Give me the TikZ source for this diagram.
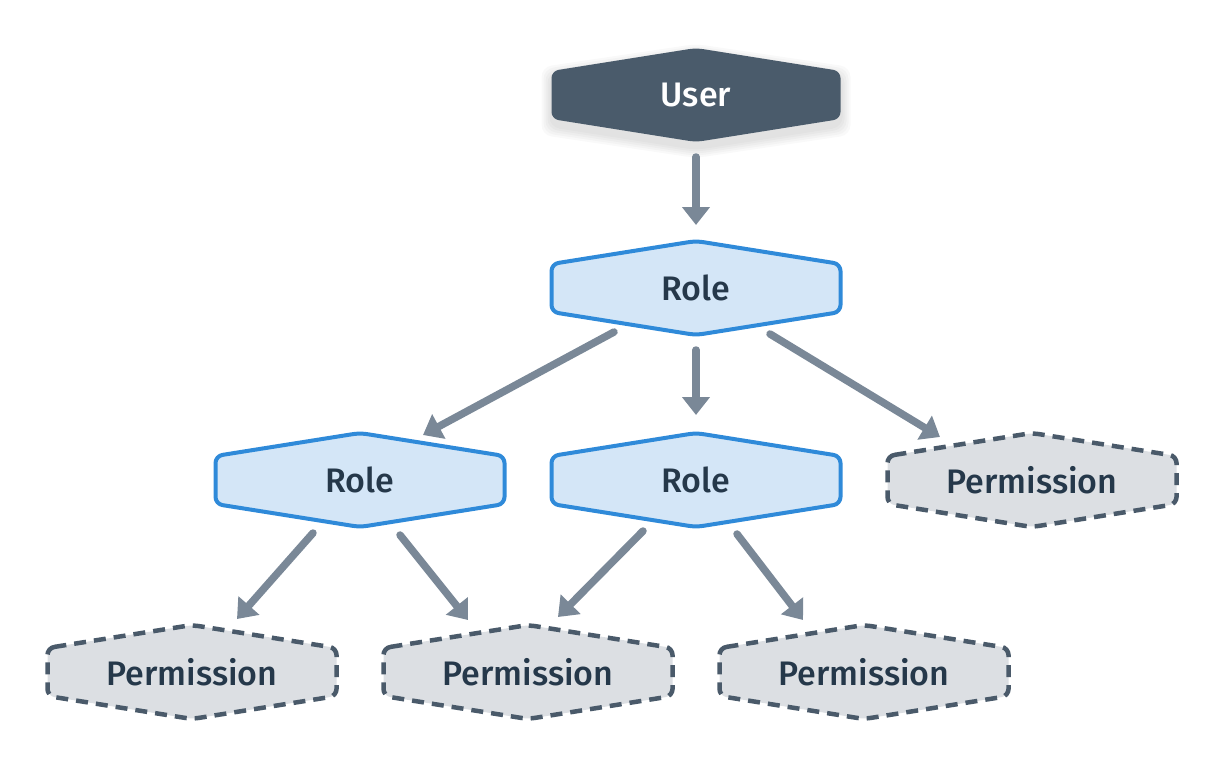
\documentclass[tikz,border=0pt]{standalone}
\usepackage{fontspec}
\setmainfont{Fira Sans Medium}
\usetikzlibrary{arrows.meta,calc}
\definecolor{userfill}{HTML}{4A5B6B}
\definecolor{rolefill}{HTML}{D4E6F7}
\definecolor{roleedge}{HTML}{2F8AD9}
\definecolor{permfill}{HTML}{DCDFE3}
\definecolor{permedge}{HTML}{4A5A6A}
\definecolor{arrowc}{HTML}{7A8897}
\definecolor{textc}{HTML}{25384A}
\tikzset{
  usershape/.style={fill=userfill,draw=none,rounded corners=7pt},
  roleshape/.style={fill=rolefill,draw=roleedge,line width=4pt,rounded corners=7pt},
  permshape/.style={fill=permfill,draw=permedge,line width=4.5pt,dash pattern=on 12pt off 8pt,rounded corners=7pt},
  usertext/.style={text=white,font=\fontsize{34}{36}\selectfont,inner sep=0pt},
  roletext/.style={text=textc,font=\fontsize{34}{36}\selectfont,inner sep=0pt},
  permtext/.style={text=textc,font=\fontsize{34}{36}\selectfont,inner sep=0pt},
  link/.style={draw=arrowc,line width=7.5pt,line cap=round,-{Triangle[width=27pt,length=18pt]}},
}
\newcommand\hexnode[4]{%
  \path #3 coordinate (#2-c);
  \path[#1shape] ($(#2-c)+(-144.5pt,24pt)$) -- ($(#2-c)+(0pt,47pt)$) -- ($(#2-c)+(144.5pt,24pt)$) -- ($(#2-c)+(144.5pt,-24pt)$) -- ($(#2-c)+(0pt,-47pt)$) -- ($(#2-c)+(-144.5pt,-24pt)$) -- cycle;
  \node[#1text] (#2) at (#2-c) {#4};
}
\begin{document}
\begin{tikzpicture}[x=1pt,y=-1pt]
\useasboundingbox (0,0) rectangle (1224,768);
% soft shadow for user
\foreach \s in {10,8,6,4,2}{
  \fill[black,opacity=0.022,rounded corners=10pt] ($(696,101)+(-144.5pt-\s pt,24pt+\s pt)$) -- ($(696,101)+(0pt,47pt+\s pt)$) -- ($(696,101)+(144.5pt+\s pt,24pt+\s pt)$) -- ($(696,101)+(144.5pt+\s pt,-24pt-\s pt)$) -- ($(696,101)+(0pt,-47pt-\s pt)$) -- ($(696,101)+(-144.5pt-\s pt,-24pt-\s pt)$) -- cycle;
}
\hexnode{user}{user}{(696,95)}{User}
\hexnode{role}{role}{(696,288)}{Role}
\hexnode{role}{roleL}{(360,480)}{Role}
\hexnode{role}{roleM}{(696,480)}{Role}
\hexnode{perm}{permR}{(1032,480)}{Permission}
\hexnode{perm}{permA}{(192,672)}{Permission}
\hexnode{perm}{permB}{(528,672)}{Permission}
\hexnode{perm}{permC}{(864,672)}{Permission}
% connectors
\draw[link] ($(user-c)+(0pt,-62pt)$) -- ($(role-c)+(0pt,63pt)$);
\draw[link] ($(role-c)+(-82pt,-44pt)$) -- ($(roleL-c)+(63pt,45pt)$);
\draw[link] ($(role-c)+(0pt,-62pt)$) -- ($(roleM-c)+(0pt,65pt)$);
\draw[link] ($(role-c)+(74pt,-46pt)$) -- ($(permR-c)+(-92pt,43pt)$);
\draw[link] ($(roleL-c)+(-47pt,-53pt)$) -- ($(permA-c)+(45pt,53pt)$);
\draw[link] ($(roleL-c)+(40pt,-55pt)$) -- ($(permB-c)+(-60pt,52pt)$);
\draw[link] ($(roleM-c)+(-53pt,-51pt)$) -- ($(permB-c)+(30pt,55pt)$);
\draw[link] ($(roleM-c)+(41pt,-54pt)$) -- ($(permC-c)+(-61pt,52pt)$);
\end{tikzpicture}
\end{document}
